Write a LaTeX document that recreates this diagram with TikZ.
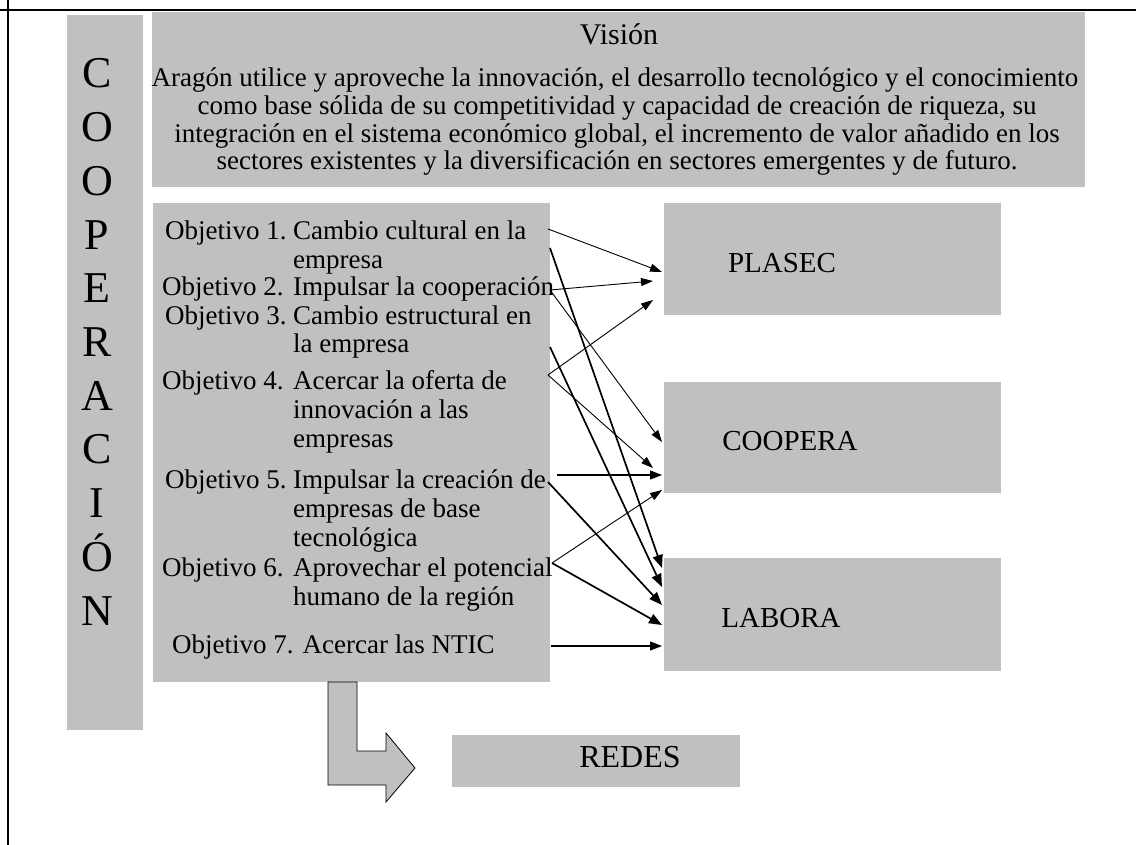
\documentclass[tikz,border=0pt]{standalone}
\usepackage{fontspec}
\setmainfont{Liberation Serif}
\usetikzlibrary{arrows.meta}
\definecolor{boxgray}{RGB}{192,192,192}
\newcommand\objrow[3]{\begin{tabular}[t]{@{}p{#1pt}@{}l@{}}#2\end{tabular}}
\begin{document}
\begin{tikzpicture}[x=1pt,y=-1pt,
  graybox/.style={fill=boxgray,draw=none,inner sep=0pt,outer sep=0pt,anchor=north west},
  colletter/.style={inner sep=0pt,anchor=base,font=\fontsize{44}{53}\selectfont},
  vistext/.style={inner sep=0pt,anchor=base,font=\fontsize{27}{28}\selectfont},
  objtext/.style={inner sep=0pt,anchor=base west,font=\fontsize{27}{28.5}\selectfont},
  boxlabel/.style={inner sep=0pt,anchor=base,font=\fontsize{29}{31}\selectfont},
  thinarrow/.style={line width=0.9pt,-{Triangle[length=12pt,width=8pt]}},
  thickarrow/.style={line width=1.7pt,-{Triangle[length=13pt,width=10pt]}},
  midarrow/.style={line width=1.3pt,-{Triangle[length=12pt,width=9pt]}},
  frame/.style={line width=2.5pt}]
\useasboundingbox (0,0) rectangle (1136,845);
% frame lines
\coordinate (fl1) at (0,10);
\coordinate (fl2) at (1136,10);
\coordinate (fv1) at (8,0);
\coordinate (fv2) at (8,845);
\draw[frame] (fl1) -- (fl2);
\draw[frame] (fv1) -- (fv2);
% gray boxes
\node[graybox,minimum width=76pt,minimum height=715pt] (coopcol) at (67,15) {};
\node[graybox,minimum width=933pt,minimum height=175pt] (vision) at (152,12) {};
\node[graybox,minimum width=397pt,minimum height=479pt] (objs) at (153,203) {};
\node[graybox,minimum width=337pt,minimum height=112pt] (plasec) at (664,203) {};
\node[graybox,minimum width=337pt,minimum height=111pt] (coopera) at (664,382) {};
\node[graybox,minimum width=337pt,minimum height=113pt] (labora) at (664,558) {};
\node[graybox,minimum width=288pt,minimum height=52pt] (redes) at (452,735) {};
% COOPERACION column
\foreach \l [count=\i] in {C,O,O,P,E,R,A,C,I,Ó,N}
  \node[colletter] (cl\i) at (97,{88+53.7*(\i-1)}) {\l};
% Vision
\node[vistext,font=\fontsize{30}{32}\selectfont] (vtitle) at (619,45) {Visión};
\node[vistext] (v1) at (615,87) {Aragón utilice y aproveche la innovación, el desarrollo tecnológico y el conocimiento};
\node[vistext] (v2) at (617,115) {como base sólida de su competitividad y capacidad de creación de riqueza, su};
\node[vistext] (v3) at (617,143) {integración en el sistema económico global, el incremento de valor añadido en los};
\node[vistext] (v4) at (617,170) {sectores existentes y la diversificación en sectores emergentes y de futuro.};
% Objectives
\node[objtext] (o1) at (165,240) {\objrow{128}{Objetivo 1. & Cambio cultural en la\\ & empresa}{}};
\node[objtext] (o2) at (162,296) {\objrow{131}{Objetivo 2. & Impulsar la cooperación}{}};
\node[objtext] (o3) at (165,324) {\objrow{128}{Objetivo 3. & Cambio estructural en\\ & la empresa}{}};
\node[objtext,font=\fontsize{27}{29}\selectfont] (o4) at (162,389) {\objrow{131}{Objetivo 4. & Acercar la oferta de\\ & innovación a las\\ & empresas}{}};
\node[objtext,font=\fontsize{27}{29}\selectfont] (o5) at (165,488) {\objrow{128}{Objetivo 5. & Impulsar la creación de\\ & empresas de base\\ & tecnológica}{}};
\node[objtext,font=\fontsize{27}{29}\selectfont] (o6) at (162,576) {\objrow{131}{Objetivo 6. & Aprovechar el potencial\\ & humano de la región}{}};
\node[objtext] (o7) at (172,653) {Objetivo 7. Acercar las NTIC};
% box labels
\node[boxlabel] (tplasec) at (782,273) {PLASEC};
\node[boxlabel] (tcoopera) at (790,450) {COOPERA};
\node[boxlabel] (tlabora) at (781,627) {LABORA};
\node[boxlabel,font=\fontsize{32}{34}\selectfont] (tredes) at (630,767) {REDES};
% arrow end points
\coordinate (s1a) at (548,229); \coordinate (e1a) at (662,272);
\coordinate (s1b) at (550,248); \coordinate (e1b) at (662,568);
\coordinate (s2) at (550,290);  \coordinate (e2a) at (653,281); \coordinate (e2b) at (662,442);
\coordinate (s3) at (550,347);  \coordinate (e3) at (662,587);
\coordinate (s4) at (548,375);  \coordinate (e4a) at (653,300); \coordinate (e4b) at (653,468);
\coordinate (s5a) at (557,475); \coordinate (e5a) at (662,475);
\coordinate (s5b) at (548,482); \coordinate (e5b) at (662,605);
\coordinate (s6) at (552,563);  \coordinate (e6a) at (662,490); \coordinate (e6b) at (662,625);
\coordinate (s7) at (551,646);  \coordinate (e7) at (662,646);
\draw[thinarrow] (s1a) -- (e1a);
\draw[thickarrow] (s1b) -- (e1b);
\draw[thinarrow] (s2) -- (e2a);
\draw[thinarrow] (s2) -- (e2b);
\draw[thickarrow] (s3) -- (e3);
\draw[thinarrow] (s4) -- (e4a);
\draw[thinarrow] (s4) -- (e4b);
\draw[midarrow] (s5a) -- (e5a);
\draw[thickarrow] (s5b) -- (e5b);
\draw[thinarrow] (s6) -- (e6a);
\draw[thickarrow] (s6) -- (e6b);
\draw[midarrow] (s7) -- (e7);
% bent arrow to REDES
\draw[fill=boxgray,line width=0.8pt,line join=miter]
  (328,682) -- (357,682) -- (357,751) -- (386,751) -- (386,733) -- (415,768)
  -- (386,802) -- (386,785) -- (328,785) -- cycle;
\end{tikzpicture}
\end{document}
